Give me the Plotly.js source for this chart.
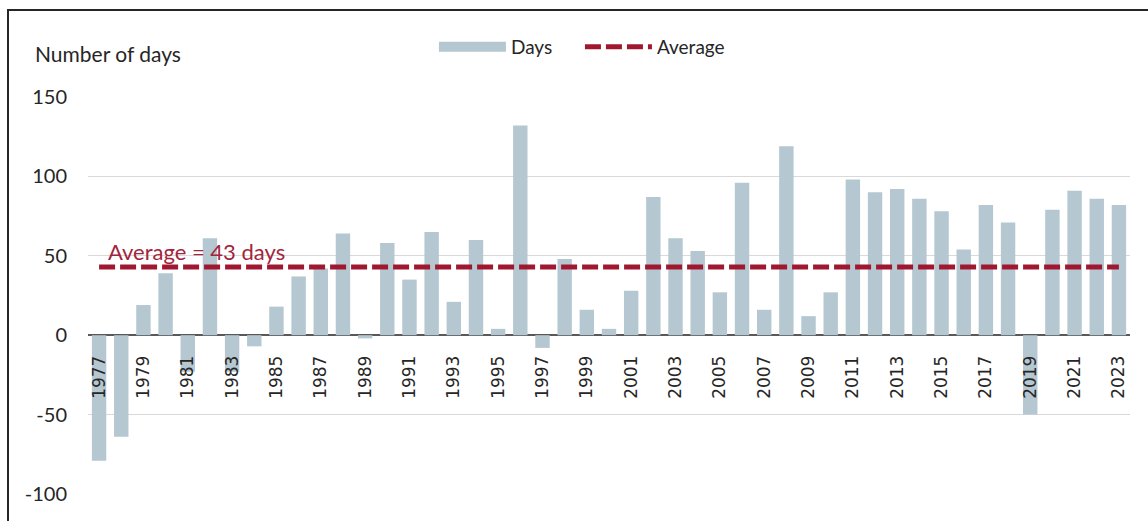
<!DOCTYPE html>
<html>
<head>
<meta charset="utf-8">
<script src="https://cdn.plot.ly/plotly-3.0.1.min.js"></script>
<style>
html,body{margin:0;padding:0;background:#fff;overflow:hidden;}
#chart{width:1148px;height:521px;}
#frame{position:absolute;left:7px;top:9px;width:1200px;height:600px;border-left:2px solid #262626;border-top:2px solid #262626;pointer-events:none;}
</style>
</head>
<body>
<div id="chart"></div>
<div id="frame"></div>
<script>
const years = [];
for (let y = 1977; y <= 2023; y++) years.push(String(y));
const days = [-79, -64, 19, 39, -23, 61, -23, -7, 18, 37, 42, 64, -2,
  58, 35, 65, 21, 60, 4, 132, -8, 48, 16, 4, 28, 87,
  61, 53, 27, 96, 16, 119, 12, 27, 98, 90, 92, 86, 78,
  54, 82, 71, -50, 79, 91, 86, 82];
const averageValue = 43;
const averageLine = years.map(() => averageValue);
const tickYears = years.filter((y, i) => i % 2 === 0);
const yTicks = [-100, -50, 0, 50, 100, 150];
const yTickText = yTicks.map(String);

const barColor = '#B5C7D1';
const avgColor = '#A01830';
const labelFont = 'Lato, "Open Sans", sans-serif';

const traces = [
  {type: 'bar', x: years, y: days, name: 'Days', marker: {color: barColor}, showlegend: false, hoverinfo: 'x+y'},
  {type: 'scatter', mode: 'lines', x: [null], y: [null], name: 'Days', line: {color: barColor, width: 14}, showlegend: true, hoverinfo: 'skip'},
  {type: 'scatter', mode: 'lines', x: years, y: averageLine, name: 'Average', line: {color: avgColor, width: 5, dash: '16px,5px'}}
];

const layout = {
  width: 1148, height: 521,
  margin: {l: 88, r: 18, t: 97, b: 27},
  paper_bgcolor: '#fff', plot_bgcolor: '#fff',
  bargap: 0.35,
  showlegend: true,
  legend: {orientation: 'h', x: 0.332, xanchor: 'left', y: 1.126, yanchor: 'middle',
    font: {family: labelFont, size: 19, color: '#262626'}, itemwidth: 67,
    entrywidth: 64, entrywidthmode: 'pixels', traceorder: 'normal'},
  xaxis: {type: 'category', tickvals: tickYears, ticktext: tickYears, tickangle: -90,
    anchor: 'free', position: 0.4, showgrid: false, showline: false, zeroline: false,
    ticks: '', ticklabelstandoff: 16,
    tickfont: {family: '"DejaVu Sans", sans-serif', size: 17, color: '#262626'}},
  yaxis: {range: [-100, 150], tickvals: yTicks, ticktext: yTickText, showgrid: true, gridcolor: '#D9D9D9', gridwidth: 1,
    zeroline: true, zerolinecolor: '#595959', zerolinewidth: 2, showline: false, ticks: '',
    ticklabelstandoff: 20,
    tickfont: {family: labelFont, size: 20, color: '#262626'}},
  annotations: [
    {xref: 'paper', yref: 'paper', x: -0.053, y: 1.11, xanchor: 'left', yanchor: 'middle', showarrow: false,
      text: 'Number of days', font: {family: labelFont, size: 21, color: '#262626'}},
    {xref: 'paper', yref: 'y', x: 0.017, y: 53, xanchor: 'left', yanchor: 'middle', showarrow: false,
      text: 'Average = 43 days', font: {family: labelFont, size: 22, color: '#A3243B'}}
  ]
};

Plotly.newPlot('chart', traces, layout, {displayModeBar: false, staticPlot: true});
</script>
</body>
</html>
